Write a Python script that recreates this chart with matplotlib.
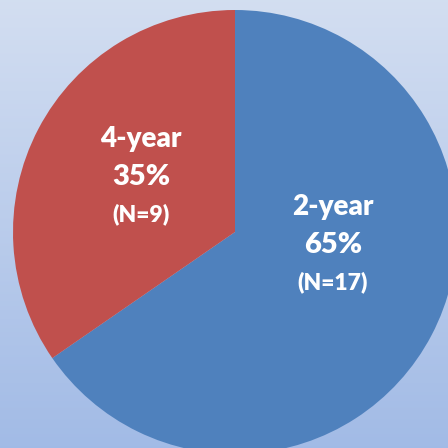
import matplotlib.pyplot as plt
import numpy as np

labels = ["2-year", "4-year"]
counts = [17, 9]
colors = ["#4F81BD", "#C0504D"]

total = sum(counts)
pcts = [round(100 * c / total) for c in counts]

fig = plt.figure(figsize=(4.48, 4.48), dpi=100)
ax = fig.add_axes([0, 0, 1, 1])

# background gradient, light at top, darker at bottom
grad = np.linspace(0, 1, 256).reshape(-1, 1)
top = np.array([0.827, 0.871, 0.945])
bot = np.array([0.635, 0.733, 0.902])
img = top + (bot - top) * grad[:, :, None]
ax.imshow(img, extent=[0, 448, 0, 448], aspect="auto", origin="upper", zorder=0)

ax.pie(counts, colors=colors, startangle=90, counterclock=False,
       center=(235, 216), radius=222, frame=True,
       wedgeprops={"linewidth": 0, "zorder": 1})
ax.set_xlim(0, 448)
ax.set_ylim(0, 448)
ax.set_aspect("auto")
ax.axis("off")

font = "Lato"
pos = {"2-year": (333, 448 - 245), "4-year": (141, 448 - 177)}
for lab, c, p in zip(labels, counts, pcts):
    x, y = pos[lab]
    ax.text(x, y + 38, lab, ha="center", va="center", color="white",
            fontsize=20, fontweight="heavy", family=font, zorder=3)
    ax.text(x, y, f"{p}%", ha="center", va="center", color="white",
            fontsize=21, fontweight="heavy", family=font, zorder=3)
    ax.text(x, y - 37, f"(N={c})", ha="center", va="center", color="white",
            fontsize=16.5, fontweight="heavy", family=font, zorder=3)

fig.savefig("out.png", dpi=100)
